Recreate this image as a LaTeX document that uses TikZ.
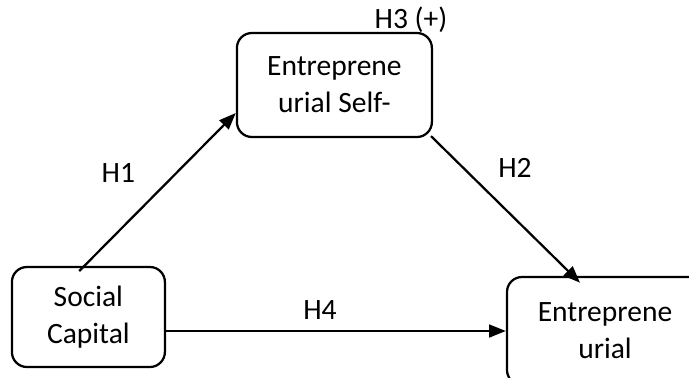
\documentclass[tikz,border=0pt]{standalone}
\usepackage{fontspec}
\setmainfont{Carlito}
\usepackage{tikz}
\usetikzlibrary{arrows.meta}

\tikzset{
  factor/.style={draw, rectangle, rounded corners=0.375cm, line width=1.6pt, align=center,
    font=\fontsize{21}{26.5}\selectfont},
  hyp/.style={font=\fontsize{21}{24}\selectfont},
  path/.style={line width=1.6pt, -{Triangle[length=0.42cm,width=0.32cm]}}
}

\begin{document}
\begin{tikzpicture}
\useasboundingbox (0,0) rectangle (17.225,-9.425);
\clip (0,0) rectangle (17.225,-9.425);

\node[factor, minimum width=4.875cm, minimum height=2.6cm] (self) at (8.36,-2.125) {Entreprene\\urial Self-};
\node[factor, minimum width=3.825cm, minimum height=2.5cm] (social) at (2.21,-7.925) {Social\\Capital};
\node[factor, minimum width=4.9cm, minimum height=2.7cm] (outcome) at (15.125,-8.275) {Entreprene\\urial};

\node[hyp] (h1) at (2.96,-4.33) {H1};
\node[hyp] (h2) at (12.875,-4.2) {H2};
\node[hyp] (h3) at (10.275,-0.5) {H3 (+)};
\node[hyp] (h4) at (8,-7.75) {H4};

\draw[path] ([xshift=-0.23cm,yshift=-0.13cm]social.north) -- ([yshift=-0.7cm]self.west);
\draw[path] ([xshift=-0.05cm,yshift=0.05cm]self.south east) -- ([xshift=-0.625cm,yshift=-0.17cm]outcome.north);
\draw[path] (social.east |- outcome.west) -- (outcome.west);
\end{tikzpicture}
\end{document}
